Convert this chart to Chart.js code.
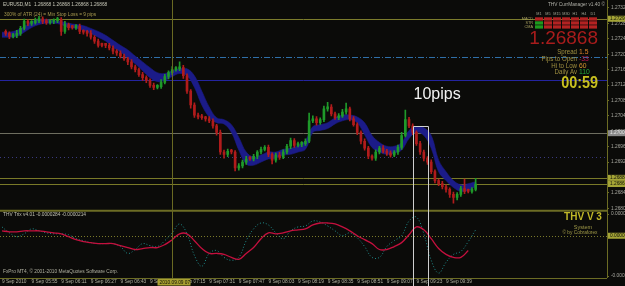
<!DOCTYPE html>
<html>
<head>
<meta charset="UTF-8">
<title>EURUSD,M1</title>
<script src="https://cdn.jsdelivr.net/npm/chart.js"></script>
<style>
  html,body{margin:0;padding:0;background:#0b0b09;}
  #wrap{width:625px;height:286px;position:relative;}
</style>
</head>
<body>
<div id="wrap"><canvas id="c"></canvas></div>
<script>
/* ==== data ==== */
// M1 closes sampled every 2 minutes from 05:41 (first value = opening reference)
const closes = [1.27262,
  1.27259,1.27251,1.27254,1.27259,1.27272,1.27290,1.27285,1.27287,1.27292,1.27297,
  1.27290,1.27287,1.27290,1.27292,1.27295,1.27264,1.27282,1.27274,1.27274,1.27277,
  1.27264,1.27262,1.27259,1.27249,1.27239,1.27228,1.27228,1.27228,1.27221,1.27213,
  1.27208,1.27200,1.27193,1.27185,1.27172,1.27165,1.27152,1.27144,1.27137,1.27124,
  1.27119,1.27121,1.27132,1.27147,1.27157,1.27165,1.27167,1.27170,1.27149,1.27109,
  1.27073,1.27047,1.27042,1.27040,1.27037,1.27032,1.27019,1.27002,1.26951,1.26945,
  1.26953,1.26951,1.26910,1.26915,1.26925,1.26933,1.26933,1.26940,1.26951,1.26958,
  1.26963,1.26945,1.26930,1.26943,1.26938,1.26951,1.26966,1.26981,1.26968,1.26971,
  1.26973,1.26979,1.27032,1.27037,1.27027,1.27035,1.27063,1.27068,1.27050,1.27040,
  1.27045,1.27055,1.27063,1.27037,1.27022,1.27002,1.26979,1.26961,1.26940,1.26935,
  1.26951,1.26961,1.26953,1.26948,1.26943,1.26951,1.26963,1.26994,1.27035,1.27019,
  1.27002,1.26973,1.26951,1.26935,1.26925,1.26900,1.26877,1.26869,1.26861,1.26854,
  1.26841,1.26833,1.26841,1.26856,1.26849,1.26849,1.26854,1.26868];
// wick lengths above / below the body, in points
const wickUp = [6,4,5,8,5,6,4,5,7,6, 5,6,4,5,6,5,8,4,6,5, 6,4,5,7,4,5,6,4,5,6,
  4,6,5,4,6,5,4,6,5,4, 6,5,7,6,5,8,6,15,6,5, 4,6,5,7,4,6,5,4,6,5,
  6,5,4,6,5,7,6,5,4,6, 5,6,4,5,7,6,5,6,5,6, 5,6,20,8,6,5,7,12,6,5,
  6,7,15,5,6,5,4,6,5,4, 6,5,7,5,6,4,6,8,25,6, 5,4,6,5,4,6,5,4,6,5,
  4,6,5,6,25,6,5,15];
const wickDn = [5,6,4,6,5,4,6,5,4,5, 6,5,4,6,5,10,5,6,4,5, 6,5,7,5,6,5,4,6,5,7,
  6,5,4,7,5,6,5,7,6,5, 6,4,5,4,6,5,4,5,7,6, 8,6,5,4,6,5,6,7,6,10,
  6,5,8,6,5,6,4,5,6,5, 4,6,10,5,6,4,5,6,5,4, 6,5,4,5,6,4,5,6,5,4,
  5,4,6,5,4,6,7,5,6,5, 6,5,4,6,5,4,6,5,4,5, 6,5,6,7,6,5,6,5,6,7,
  8,15,6,5,6,4,5,4];

// blue MA ribbon, every 4 minutes from 05:39
const bandTop = [1.27262,1.27262,1.27267,1.27277,1.27290,1.27295,1.27295,1.27292,1.27290,1.27285,
  1.27282,1.27279,1.27272,1.27264,1.27254,1.27241,1.27228,1.27216,1.27200,1.27185,
  1.27170,1.27157,1.27155,1.27162,1.27167,1.27167,1.27149,1.27109,1.27068,1.27040,
  1.27035,1.27022,1.26989,1.26951,1.26938,1.26943,1.26951,1.26951,1.26958,1.26961,
  1.26968,1.26981,1.27017,1.27022,1.27027,1.27040,1.27047,1.27047,1.27042,1.27027,
  1.26994,1.26976,1.26966,1.26966,1.26976,1.27007,1.27017,1.27014,1.26994,1.26930,
  1.26900,1.26877,1.26866,1.26869,1.26874];
const bandBot = [1.27249,1.27249,1.27251,1.27262,1.27274,1.27282,1.27285,1.27285,1.27282,1.27274,
  1.27272,1.27267,1.27259,1.27249,1.27239,1.27223,1.27211,1.27195,1.27180,1.27162,
  1.27144,1.27134,1.27137,1.27147,1.27155,1.27149,1.27119,1.27073,1.27042,1.27027,
  1.27024,1.27002,1.26956,1.26920,1.26917,1.26925,1.26933,1.26935,1.26943,1.26945,
  1.26951,1.26958,1.27002,1.27007,1.27012,1.27024,1.27032,1.27035,1.27027,1.26996,
  1.26963,1.26951,1.26945,1.26948,1.26956,1.26986,1.27002,1.26994,1.26961,1.26900,
  1.26877,1.26859,1.26849,1.26851,1.26861];

// THV Trix (lower window), every 4 minutes
const trixMain = [0.000015,0.000012,0.000012,0.000015,0.000015,0.000015,0.000012,0.000009,0.000006,-0.000003,
  -0.000012,-0.000018,-0.000021,-0.000024,-0.000024,-0.000024,-0.00003,-0.000036,-0.000042,-0.000039,
  -0.000036,-0.000036,-0.000027,-0.000012,0.000006,0.000006,-0.000015,-0.000039,-0.000054,-0.000054,
  -0.000057,-0.000066,-0.000072,-0.000054,-0.000036,-0.000009,0.000009,0.000006,0.000009,0.000015,
  0.000018,0.000021,0.000033,0.000039,0.000039,0.000036,0.000027,0.000015,0,-0.000012,
  -0.000024,-0.000042,-0.000042,-0.000033,-0.000021,0.000003,0.000027,0.000018,-0.000009,-0.000039,
  -0.000057,-0.000066,-0.000066,-0.000045,null];
const trixSignal = [0.000027,0.000009,-0.000003,0.000006,0.000021,0.000015,0.000009,0.000006,0.000006,0.000003,
  -0.000009,-0.000015,-0.000021,-0.000024,-0.000024,-0.000024,-0.000033,-0.000054,-0.000042,-0.000024,
  -0.00003,-0.000033,-0.000015,0.000009,0.000036,0.000006,-0.00006,-0.000093,-0.000054,-0.000045,
  -0.000066,-0.000075,-0.000066,-0.000015,0.000021,0.000039,0.000033,0.000009,-0.000009,0.000015,
  0.000027,0.00003,0.000045,0.000042,0.00003,0.000015,0,0.000009,-0.000006,-0.000033,
  -0.000066,-0.000066,-0.000033,-0.000015,0,0.000045,0.000057,0.000006,-0.000075,-0.000114,
  -0.000081,-0.000057,-0.000048,-0.000018,0.000018];

const timeLabels = ['9 Sep 2010','9 Sep 05:55','9 Sep 06:11','9 Sep 06:27','9 Sep 06:43','9 Sep 06:59',
  '9 Sep 07:15','9 Sep 07:31','9 Sep 07:47','9 Sep 08:03','9 Sep 08:19','9 Sep 08:35','9 Sep 08:51',
  '9 Sep 09:07','9 Sep 09:23','9 Sep 09:39'];
const priceTicks = [1.27325,1.27285,1.27245,1.27205,1.27165,1.27125,1.27085,1.27045,1.27005,1.26965,
  1.26925,1.26885,1.26845,1.26805];
const trixTicks = [0.000066,-0.000123];
const trixTickLabels = ['0.000066','-0.000123'];

const levelPrices = [1.27297,1.27198,1.27139,1.27000,1.26938,1.26884,1.26868];
const crossMinute = 92, crossLabel = '2010.09.09 07:12';
const pipBox = {from:222.2, to:230.3, top:1.27019, text:'10pips'};

const cmHeaders = ['M1','M5','M15','M30','H1','H4','D1'];
const cmRows = ['MACD','STR','CMA'];
const cmStates = [[0,0,0,0,0,0,0],[1,0,0,0,0,0,0],[1,0,0,0,0,0,0]];
const statLabels = ['Spread','Pips to Open','Hi to Low','Daily Av'];
const statValues = ['1.5','-33','60','110'];

/* ==== styles ==== */
const BULL = '#1f9a2a', BEAR = '#b01c1c', BAND = '#1b1b88';
const OLIVE = '#6c6c24';
const SMALL = '4.8px "Liberation Sans"';
const levelStyles = [
  {c:'#7c7c2c', d:[]}, {c:'#2f6fa8', d:[6,2,1,2]}, {c:'#2424a0', d:[]},
  {c:'#6e6e60', d:[]}, {c:'#3a3a80', d:[1,3]}, {c:'#7a7a28', d:[]}, {c:'#7a7a28', d:[]}
];

const PT = 0.00001;
const candles = closes.slice(1).map((c, i) => ({x: 2 + 2*i, y: [closes[i], c]}));
const wicks = candles.map((d, i) => ({x: d.x, o: d.y[0], c: d.y[1],
  y: [Math.min(d.y[0], d.y[1]) - wickDn[i]*PT, Math.max(d.y[0], d.y[1]) + wickUp[i]*PT]}));
const bandX = bandTop.map((_, i) => i*4);
const pts = arr => arr.map((v, i) => ({x: bandX[i], y: v}));
const barColor = c => (c.raw && c.raw.o !== undefined ? c.raw.c > c.raw.o : c.raw && c.raw.y[1] > c.raw.y[0]) ? BULL : BEAR;

function txt(ctx, s, x, y, color, font, align, sx){
  ctx.save();
  ctx.font = font; ctx.fillStyle = color; ctx.textAlign = align || 'left'; ctx.textBaseline = 'middle';
  ctx.translate(x, y); ctx.scale(sx || 1, 1); ctx.fillText(s, 0, 0);
  ctx.restore();
}
function hline(ctx, y, x0, x1, color, dash, w){
  ctx.save(); ctx.strokeStyle = color; ctx.lineWidth = w || 1; ctx.setLineDash(dash || []);
  ctx.beginPath(); ctx.moveTo(x0, y); ctx.lineTo(x1, y); ctx.stroke(); ctx.restore();
}
function vline(ctx, x, y0, y1, color, w){
  ctx.save(); ctx.strokeStyle = color; ctx.lineWidth = w || 1;
  ctx.beginPath(); ctx.moveTo(x, y0); ctx.lineTo(x, y1); ctx.stroke(); ctx.restore();
}
function axisBox(ctx, y, label, bg, fg){
  ctx.fillStyle = bg; ctx.fillRect(608, y - 3, 17, 6);
  txt(ctx, label, 610, y, fg, SMALL);
}

/* ==== mt4 decorations ==== */
const mt4 = {
  id:'mt4',
  beforeDraw(chart){
    const ctx = chart.ctx;
    ctx.save(); ctx.fillStyle = '#0b0b09'; ctx.fillRect(0, 0, chart.width, chart.height); ctx.restore();
  },
  beforeDatasetsDraw(chart){
    const {ctx, chartArea:a, scales:{y, y2}} = chart;
    levelPrices.forEach((p, i) => hline(ctx, Math.round(y.getPixelForValue(p)) + 0.5, a.left, a.right, levelStyles[i].c, levelStyles[i].d));
    hline(ctx, Math.round(y2.getPixelForValue(0)) + 0.5, a.left, a.right, '#7a7a2a', [1,2]);
  },
  afterDatasetsDraw(chart){
    const {ctx, chartArea:a, scales:{x, y, y2}} = chart;
    // panel borders
    hline(ctx, y.bottom + 0.5, 0, a.right, OLIVE, [], 2);
    hline(ctx, a.bottom + 0.5, 0, a.right, OLIVE);
    vline(ctx, a.right + 0.5, 0, a.bottom, OLIVE);
    // crosshair
    const cx = Math.round(x.getPixelForValue(crossMinute)) + 0.5;
    vline(ctx, cx, 0, a.bottom, '#6a6a22');
    // pip box
    const bx0 = Math.round(x.getPixelForValue(pipBox.from)) + 0.5;
    const bx1 = Math.round(x.getPixelForValue(pipBox.to)) + 0.5;
    const by = Math.round(y.getPixelForValue(pipBox.top)) + 0.5;
    ctx.save(); ctx.strokeStyle = '#cfcfcf'; ctx.lineWidth = 1;
    ctx.beginPath(); ctx.moveTo(bx0, chart.height); ctx.lineTo(bx0, by); ctx.lineTo(bx1, by); ctx.lineTo(bx1, chart.height); ctx.stroke();
    ctx.restore();
    txt(ctx, pipBox.text, bx0, 95, '#f2f2f2', '16px "Liberation Sans"');

    // top-left info
    txt(ctx, 'EURUSD,M1  1.26868 1.26868 1.26868 1.26868', 3, 5, '#c8c8b8', SMALL);
    txt(ctx, '300% of ATR (24) = Min Stop Loss = 9 pips', 4, 15, '#a89a50', SMALL);
    // lower window info
    txt(ctx, 'THV Trix v4.01 -0.0000284 -0.0000214', 3, 215, '#c0c0b0', SMALL);
    txt(ctx, 'FxPro MT4, \u00a9 2001-2010 MetaQuotes Software Corp.', 3, 272, '#b0b0a0', SMALL);

    // currency manager widget
    txt(ctx, 'THV CurrManager v1.40 \u00a9', 605, 5, '#b0b0a8', SMALL, 'right');
    cmHeaders.forEach((h, c) => txt(ctx, h, 539 + c*9, 13.5, '#a0a090', '3.8px "Liberation Sans"', 'center'));
    cmRows.forEach((r, ri) => {
      txt(ctx, r, 533, 19 + ri*4, '#a8a060', '3.8px "Liberation Sans"', 'right');
      cmStates[ri].forEach((s, c) => {
        ctx.fillStyle = s ? '#1e9a1e' : '#b42222';
        ctx.fillRect(535 + c*9, 17.3 + ri*4, 8, 3.3);
      });
    });
    txt(ctx, '1.26868', 598, 38.5, '#a81c1c', '19px "Liberation Sans"', 'right');
    const valColors = ['#e0822a', '#b8184e', '#d8962e', '#22a83a'];
    statLabels.forEach((l, i) => {
      const yy = 52 + i*6.8;
      txt(ctx, l, 577, yy, '#a09040', '7.5px "Liberation Sans"', 'right', 0.82);
      txt(ctx, statValues[i], 579, yy, valColors[i], '7.5px "Liberation Sans"', 'left', 0.9);
    });
    txt(ctx, '00:59', 598, 83.5, '#c8c020', 'bold 16px "Liberation Sans"', 'right', 0.9);

    // THV V 3 label
    txt(ctx, 'THV V 3', 583, 217.5, '#c0b828', 'bold 10px "Liberation Sans"', 'center');
    txt(ctx, 'System', 583, 227, '#a09a48', '5.5px "Liberation Sans"', 'center');
    txt(ctx, '\u00a9 by Cobraforex', 580, 233, '#a09a48', SMALL, 'center');

    // axis boxes
    axisBox(ctx, y.getPixelForValue(levelPrices[0]), '1.27297', '#a4a436', '#101008');
    axisBox(ctx, y.getPixelForValue(levelPrices[3]), '1.27000', '#8a8a8a', '#e8e8e8');
    axisBox(ctx, y.getPixelForValue(levelPrices[5]), '1.26884', '#a4a436', '#101008');
    axisBox(ctx, y.getPixelForValue(levelPrices[6]), '1.26868', '#a4a436', '#101008');
    axisBox(ctx, y2.getPixelForValue(0), '0.00000', '#a4a436', '#101008');
    // crosshair time box
    ctx.fillStyle = '#a8a030'; ctx.fillRect(cx - 15, 279, 33, 6.5);
    txt(ctx, crossLabel, cx - 13, 282.3, '#101008', SMALL);
  }
};

new Chart(document.getElementById('c'), {
  type:'bar',
  data:{
    datasets:[
      {type:'bar', data:wicks, yAxisID:'y', order:2, barThickness:1, grouped:false, backgroundColor:barColor},
      {type:'bar', data:candles, yAxisID:'y', order:2, barThickness:2, grouped:false, minBarLength:2, backgroundColor:barColor},
      {type:'line', data:pts(bandTop), yAxisID:'y', order:3, fill:'+1', borderColor:BAND,
       backgroundColor:BAND, borderWidth:0.6, pointRadius:0, tension:0.4},
      {type:'line', data:pts(bandBot), yAxisID:'y', order:3, fill:false, borderColor:BAND,
       borderWidth:0.6, pointRadius:0, tension:0.4},
      {type:'line', data:pts(trixMain), yAxisID:'y2', order:1, borderColor:'#c4103e', borderWidth:1.3,
       pointRadius:0, tension:0.4, fill:false},
      {type:'line', data:pts(trixSignal), yAxisID:'y2', order:1, borderColor:'#1f8a8a', borderWidth:1,
       borderDash:[1,2], pointRadius:0, tension:0.4, fill:false}
    ]
  },
  options:{
    responsive:true, maintainAspectRatio:false, animation:false,
    layout:{padding:0},
    plugins:{legend:{display:false}, tooltip:{enabled:false}},
    scales:{
      x:{type:'linear', min:-1.08, max:327, offset:false,
         grid:{display:false, drawTicks:false}, border:{display:false},
         afterBuildTicks: s => { s.ticks = timeLabels.map((_, i) => ({value: i*16})); },
         afterFit: s => { s.height = 8; },
         ticks:{align:'start', autoSkip:false, maxRotation:0, padding:1, color:'#b0b0a0',
                font:{family:'Liberation Sans', size:4.8},
                callback: (v, i) => timeLabels[i]}},
      y:{type:'linear', position:'right', stack:'win', stackWeight:209, min:1.26800, max:1.27333,
         grid:{display:true, drawOnChartArea:false, drawTicks:true, tickLength:2, color:OLIVE}, border:{display:false},
         afterBuildTicks: s => { s.ticks = priceTicks.map(v => ({value:v})); },
         afterFit: s => { s.width = 18; },
         ticks:{autoSkip:false, padding:2, color:'#a8a8a0', font:{family:'Liberation Sans', size:4.8},
                callback: v => v.toFixed(5)}},
      y2:{type:'linear', position:'right', stack:'win', stackWeight:69, min:-0.000129, max:0.000078,
         grid:{display:true, drawOnChartArea:false, drawTicks:true, tickLength:2, color:OLIVE}, border:{display:false},
         afterBuildTicks: s => { s.ticks = trixTicks.map(v => ({value:v})); },
         afterFit: s => { s.width = 18; },
         ticks:{autoSkip:false, padding:2, color:'#a8a8a0', font:{family:'Liberation Sans', size:4.8},
                callback: (v, i) => trixTickLabels[i]}}
    }
  },
  plugins:[mt4]
});
</script>
</body>
</html>
